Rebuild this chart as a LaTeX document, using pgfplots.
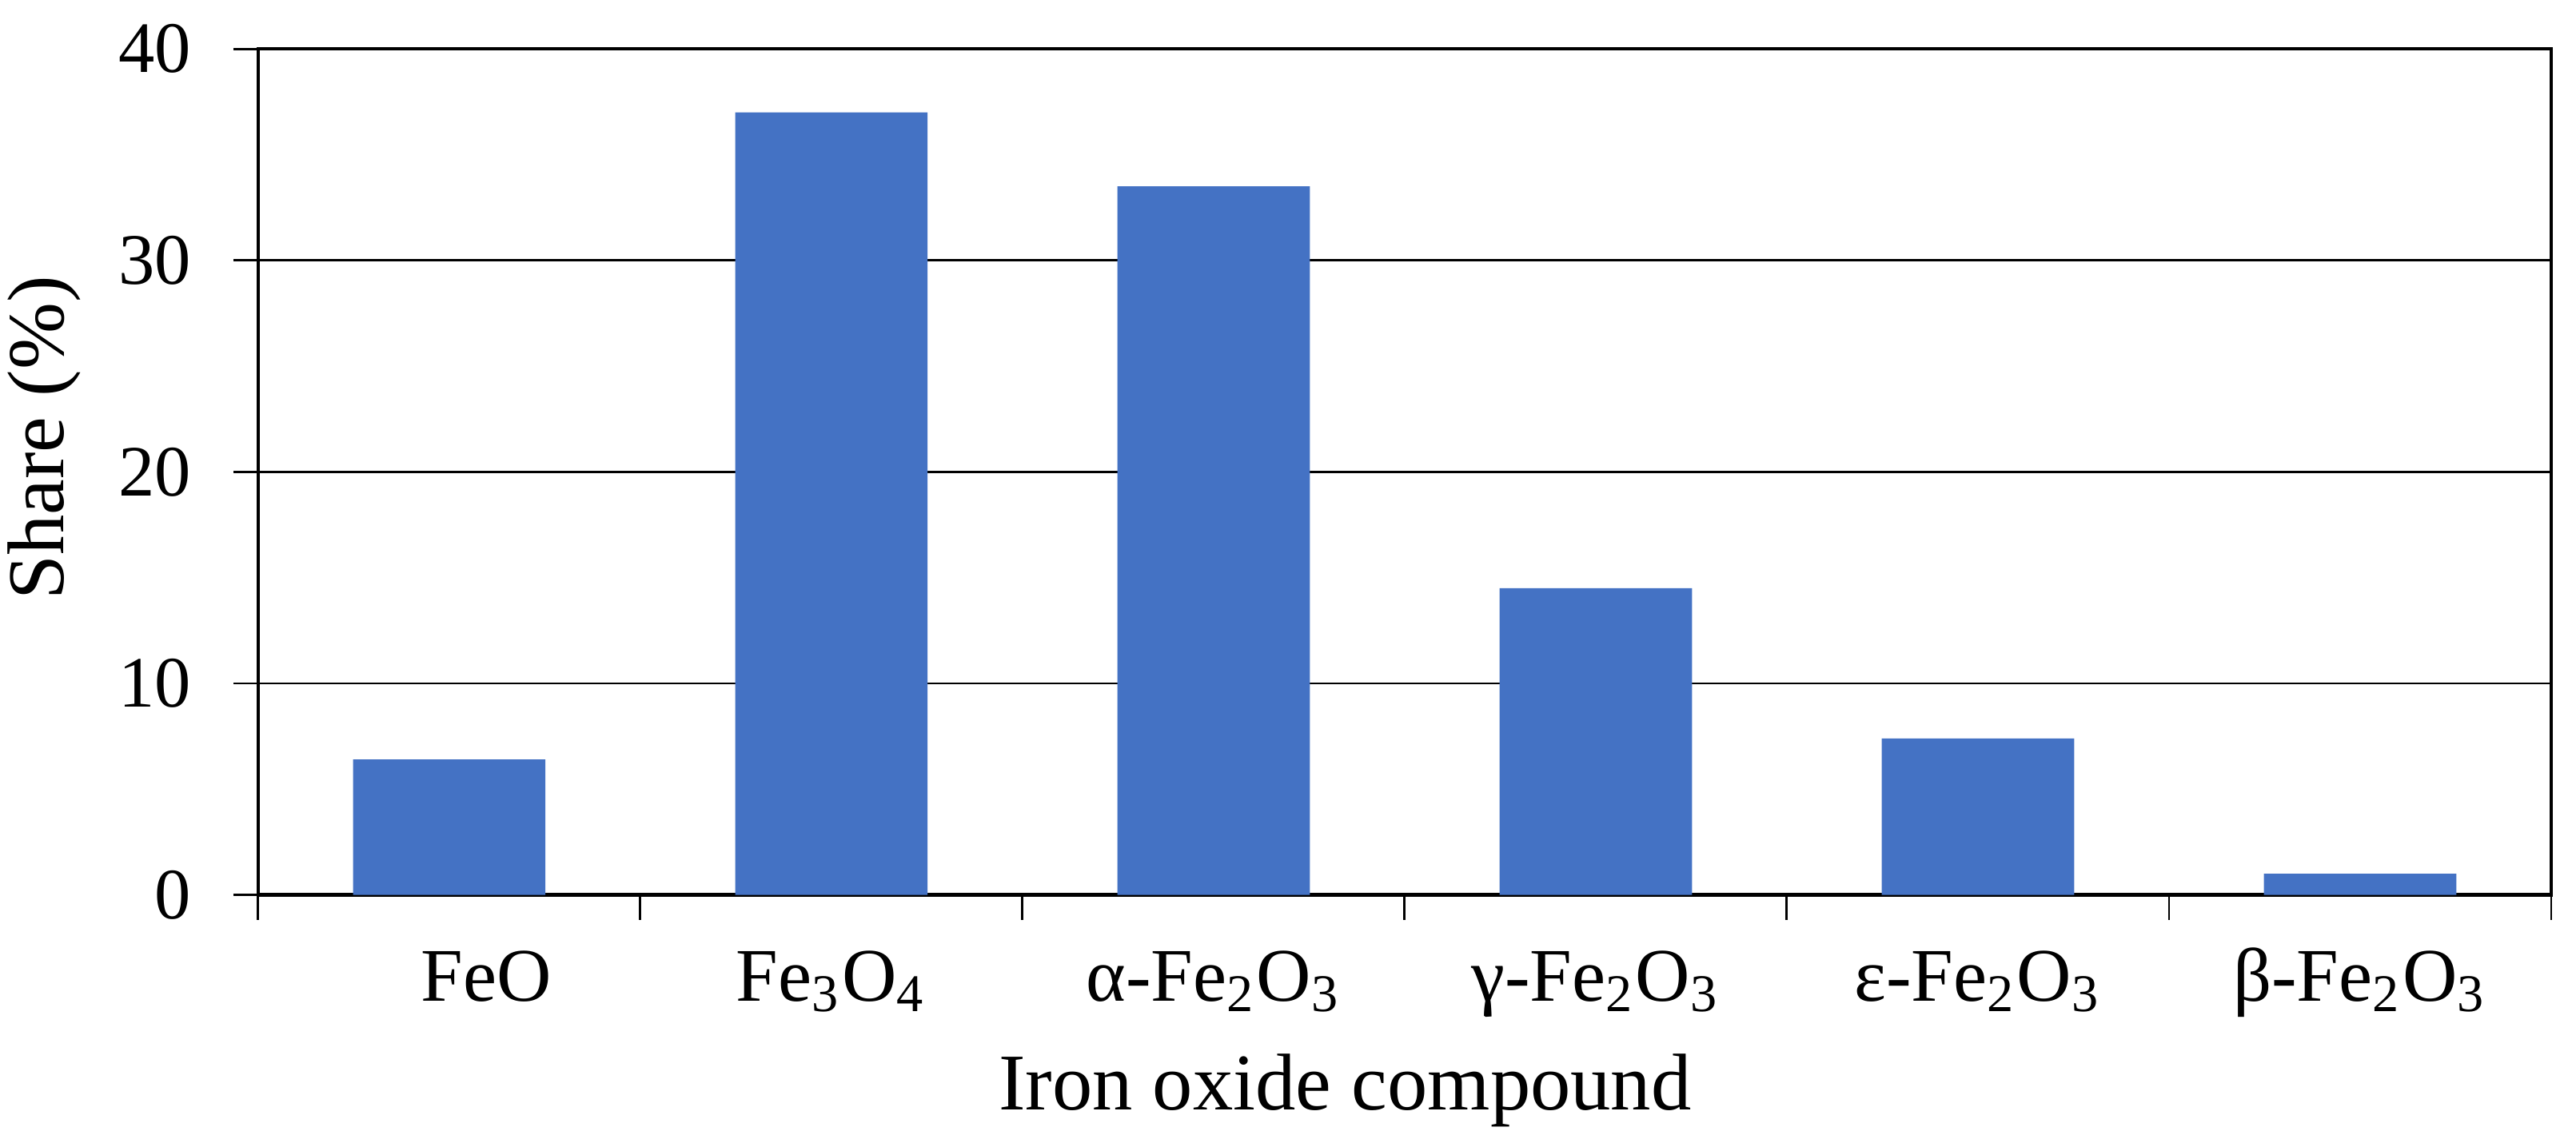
\documentclass[border=0pt]{standalone}
\usepackage{fontspec}
\setmainfont{Liberation Serif}
\usepackage{pgfplots}
\pgfplotsset{compat=1.18}
\definecolor{barblue}{RGB}{68,114,196}
\begin{document}
\begin{tikzpicture}
\path[use as bounding box] (-38.5pt,-37pt) rectangle (345.7pt,133.5pt);
\begin{axis}[
  scale only axis, width=342pt, height=126.2pt,
  at={(0pt,0pt)}, anchor=south west,
  xmin=0.5, xmax=6.5, ymin=0, ymax=40,
  ytick={0,10,20,30,40},
  xtick={1,2,3,4,5,6},
  xticklabels={\hspace{11pt}FeO, Fe\textsubscript{3}O\textsubscript{4}, α-Fe\textsubscript{2}O\textsubscript{3}, γ-Fe\textsubscript{2}O\textsubscript{3}, ε-Fe\textsubscript{2}O\textsubscript{3}, β-Fe\textsubscript{2}O\textsubscript{3}},
  minor xtick={0.5,1.5,2.5,3.5,4.5,5.5,6.5},
  tick align=outside,
  xtick pos=bottom, ytick pos=left,
  major tick length=3.7pt, minor tick length=3.7pt,
  major x tick style={draw=none},
  tick style={black, line width=0.35pt},
  ymajorgrids, grid style={black, line width=0.35pt},
  axis line style={black, line width=0.5pt},
  ybar, bar width=28.7pt,
  /pgf/number format/assume math mode=true,
  yticklabel style={font=\fontsize{10.8}{12}\selectfont, anchor=east, inner sep=0pt, xshift=-6.1pt},
  xticklabel style={font=\fontsize{11.3}{13}\selectfont, anchor=base, inner sep=0pt, yshift=-12.1pt},
  ylabel={Share (\%)},
  ylabel style={font=\fontsize{12}{14}\selectfont, at={(axis description cs:-0.0933,0.54)}, anchor=center, rotate=0},
  xlabel={Iron oxide compound},
  xlabel style={font=\fontsize{12}{14}\selectfont, at={(axis description cs:0.474,-0.231)}, anchor=center},
]
\addplot[fill=barblue, draw=none] coordinates {(1,6.4) (2,37.0) (3,33.5) (4,14.5) (5,7.4) (6,1.0)};
\end{axis}
\end{tikzpicture}
\end{document}
